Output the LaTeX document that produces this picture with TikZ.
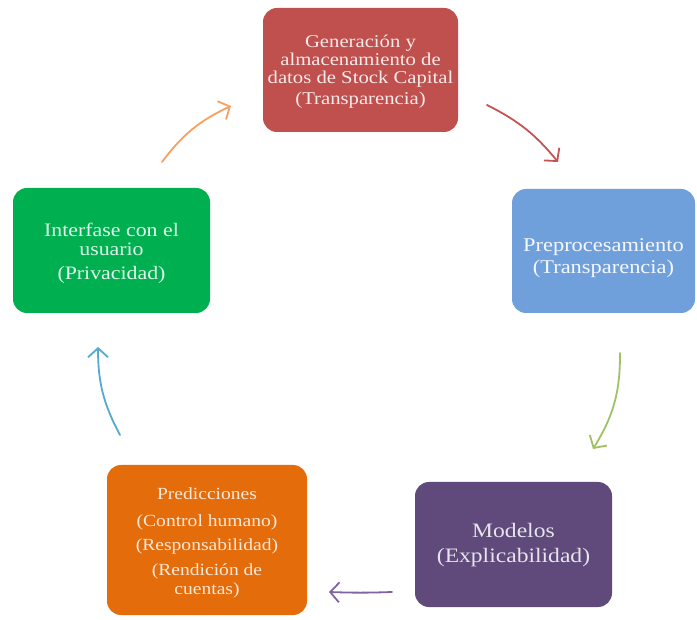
\documentclass[tikz,border=0pt]{standalone}
\usepackage{fontspec}
\usetikzlibrary{arrows.meta}
\newfontfamily\boxfont[FakeStretch=1.15]{Liberation Serif}
\newcommand\tightlines{\lineskiplimit=-20pt\relax}
\newcommand\boxsize[2]{\boxfont\fontsize{#1}{#2}\selectfont\tightlines}
\definecolor{cRed}{RGB}{192,80,77}
\definecolor{cBlue}{RGB}{112,160,220}
\definecolor{cGreen}{RGB}{0,176,80}
\definecolor{cPurple}{RGB}{96,73,123}
\definecolor{cOrange}{RGB}{228,108,10}
\definecolor{aOrange}{RGB}{247,160,96}
\definecolor{aRed}{RGB}{196,84,84}
\definecolor{aGreen}{RGB}{160,194,100}
\definecolor{aPurple}{RGB}{128,100,162}
\definecolor{aBlue}{RGB}{84,170,208}
\tikzset{
  stagebox/.style={draw=none, rounded corners=14pt, inner sep=0pt},
  stagetext/.style={align=center, inner sep=0pt},
  cyclearrow/.style={line width=1.8pt, line cap=round,
    -{Straight Barb[length=9pt,width=20pt,line width=1.8pt]}}
}
\begin{document}
\begin{tikzpicture}[x=1pt,y=-1pt]
\useasboundingbox (0,0) rectangle (697,620);
% boxes
\node[stagebox, fill=cRed, minimum width=195pt, minimum height=124pt] (genbox) at (360.5,70) {};
\node[stagebox, fill=cBlue, minimum width=183pt, minimum height=124pt] (prebox) at (603.5,251) {};
\node[stagebox, fill=cGreen, minimum width=197pt, minimum height=125pt] (intbox) at (111.5,250.5) {};
\node[stagebox, fill=cPurple, minimum width=197pt, minimum height=125pt] (modbox) at (513.5,544.5) {};
\node[stagebox, fill=cOrange, minimum width=200pt, minimum height=150pt] (predbox) at (207,540) {};
% texts
\node[stagetext, text=white!88!cRed, font={\boxsize{18}{18}}] (gen) at (360.5,72)
  {Generación y\\ almacenamiento de\\ datos de Stock Capital\\[3pt] (Transparencia)};
\node[stagetext, text=white!92!cBlue, font={\boxsize{19.5}{19}}] (pre) at (603.5,258)
  {Preprocesamiento\\[3pt] (Transparencia)};
\node[stagetext, text=white!88!cGreen, font={\boxsize{19}{19}}] (int) at (111.5,253)
  {Interfase con el\\ usuario\\[5pt] (Privacidad)};
\node[stagetext, text=white!85!cPurple, font={\boxsize{20.5}{20}}] (mod) at (513.5,545)
  {Modelos\\[5pt] (Explicabilidad)};
\node[stagetext, text=white!85!cOrange, font={\boxsize{17}{19}}] (pred) at (207,542.5)
  {Predicciones\\[8pt] (Control humano)\\[5pt] (Responsabilidad)\\[6pt] (Rendición de\\ cuentas)};
% arrow end points
\coordinate (oA) at (162,162); \coordinate (oB) at (231,106);
\coordinate (rA) at (487,105); \coordinate (rB) at (558,162);
\coordinate (gA) at (620,353); \coordinate (gB) at (593,449);
\coordinate (pA) at (392,592); \coordinate (pB) at (329,592);
\coordinate (bA) at (120,435); \coordinate (bB) at (98,347);
\draw[cyclearrow, aOrange] (oA) to[bend left=14] (oB);
\draw[cyclearrow, aRed] (rA) to[bend left=12] (rB);
\draw[cyclearrow, aGreen] (gA) to[bend left=16] (gB);
\draw[cyclearrow, aPurple] (pA) to[bend left=2] (pB);
\draw[cyclearrow, aBlue] (bA) to[bend left=14] (bB);
\end{tikzpicture}
\end{document}
